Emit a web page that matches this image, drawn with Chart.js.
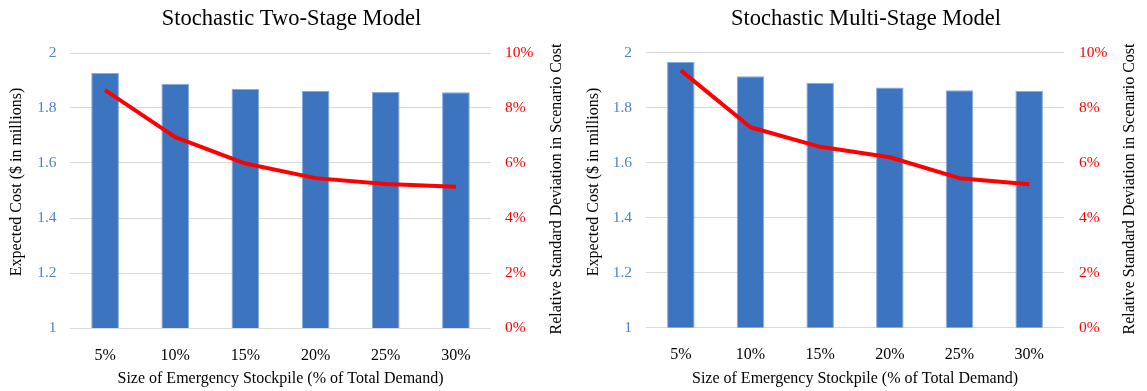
<!DOCTYPE html>
<html>
<head>
<meta charset="utf-8">
<script src="https://cdn.jsdelivr.net/npm/chart.js@4.4.1/dist/chart.umd.min.js"></script>
<style>
  html, body { margin: 0; padding: 0; background: #ffffff; }
  #wrap { position: relative; width: 1147px; height: 391px; overflow: hidden; }
  .panel { position: absolute; top: 0; }
</style>
</head>
<body>
<div id="wrap">
  <div class="panel" style="left:0px"><canvas id="twoStage" width="575" height="391"></canvas></div>
  <div class="panel" style="left:575px"><canvas id="multiStage" width="572" height="391"></canvas></div>
</div>
<script>
// Stockpile sizes (% of total demand)
const categories = ['5%', '10%', '15%', '20%', '25%', '30%'];

// Expected cost ($ millions) per stockpile size
const twoStageCost   = [1.927, 1.888, 1.869, 1.862, 1.858, 1.857];
const multiStageCost = [1.966, 1.914, 1.890, 1.873, 1.863, 1.861];

// Relative standard deviation of scenario cost (%)
const twoStageRsd   = [8.65, 6.94, 5.98, 5.45, 5.24, 5.14];
const multiStageRsd = [9.35, 7.28, 6.57, 6.19, 5.43, 5.21];

// Axis tick labels
const costTickLabels = ['1', '1.2', '1.4', '1.6', '1.8', '2'];
const rsdTickLabels  = ['0%', '2%', '4%', '6%', '8%', '10%'];

const SERIF = '"Liberation Serif", "Times New Roman", serif';

// Draws the two vertical axis titles, both reading bottom-to-top
const sideTitlesPlugin = {
  id: 'sideTitles',
  afterDraw(chart, args, opts) {
    const ctx = chart.ctx;
    (opts.items || []).forEach(it => {
      ctx.save();
      ctx.translate(it.x, it.y);
      ctx.rotate(-Math.PI / 2);
      ctx.font = '16px ' + SERIF;
      ctx.fillStyle = '#000000';
      ctx.textAlign = 'center';
      ctx.textBaseline = 'middle';
      ctx.fillText(it.text, 0, 0);
      ctx.restore();
    });
  }
};

function makeChart(canvasId, title, cost, rsd, geo) {
  const canvas = document.getElementById(canvasId);
  const W = canvas.width;
  return new Chart(canvas, {
    type: 'bar',
    data: {
      labels: categories,
      datasets: [
        {
          type: 'line',
          data: rsd,
          yAxisID: 'y1',
          borderColor: '#ff0000',
          borderWidth: 4,
          borderJoinStyle: 'round',
          pointRadius: 0,
          tension: 0,
          fill: false,
          order: 0
        },
        {
          type: 'bar',
          data: cost,
          yAxisID: 'y',
          backgroundColor: '#3c74bf',
          borderColor: '#86aadb',
          borderWidth: 1,
          categoryPercentage: 1,
          barPercentage: 0.395,
          order: 1
        }
      ]
    },
    options: {
      responsive: false,
      animation: false,
      devicePixelRatio: 1,
      layout: { padding: { left: geo.padLeft, right: 0, top: 0, bottom: 0 } },
      plugins: {
        legend: { display: false },
        tooltip: { enabled: false },
        title: {
          display: true,
          text: title,
          color: '#000000',
          font: { family: SERIF, size: 22.5, weight: 'normal' },
          padding: { top: 6, bottom: geo.titleGap }
        },
        sideTitles: {
          items: [
            { text: 'Expected Cost ($ in millions)', x: geo.leftTitleX, y: 182 },
            { text: 'Relative Standard Deviation in Scenario Cost', x: geo.rightTitleX, y: 189 }
          ]
        }
      },
      scales: {
        x: {
          grid: { display: false },
          border: { display: false },
          ticks: {
            color: '#000000',
            padding: 10,
            font: { family: SERIF, size: 16 }
          },
          title: {
            display: true,
            text: 'Size of Emergency Stockpile (% of Total Demand)',
            color: '#000000',
            font: { family: SERIF, size: 16 },
            padding: { top: 0, bottom: 2.4 }
          },
          afterFit(scale) { scale.height = 391 - geo.bottom; }
        },
        y: {
          position: 'left',
          min: 1,
          max: 2,
          grid: { color: '#d9d9d9', lineWidth: 1, drawTicks: false },
          border: { display: false },
          ticks: {
            stepSize: 0.2,
            padding: geo.leftTickPad,
            color: '#4f83cc',
            font: { family: SERIF, size: 15.5 },
            callback: (v, i) => costTickLabels[i]
          },
          afterFit(scale) { scale.width = geo.left - geo.padLeft; }
        },
        y1: {
          position: 'right',
          min: 0,
          max: 10,
          grid: { display: false, drawTicks: false },
          border: { display: false },
          ticks: {
            stepSize: 2,
            padding: geo.rightTickPad,
            color: '#ff0000',
            font: { family: SERIF, size: 15.5 },
            callback: (v, i) => rsdTickLabels[i]
          },
          afterFit(scale) { scale.width = W - geo.right; }
        }
      }
    },
    plugins: [sideTitlesPlugin]
  });
}

makeChart('twoStage', 'Stochastic Two-Stage Model', twoStageCost, twoStageRsd, {
  padLeft: 8, left: 70, right: 491, bottom: 328, titleGap: 20,
  leftTickPad: 13.5, rightTickPad: 14,
  leftTitleX: 17, rightTitleX: 557
});

makeChart('multiStage', 'Stochastic Multi-Stage Model', multiStageCost, multiStageRsd, {
  padLeft: 10, left: 71, right: 489, bottom: 327.5, titleGap: 19.5,
  leftTickPad: 14, rightTickPad: 15,
  leftTitleX: 18.5, rightTitleX: 555
});
</script>
</body>
</html>
